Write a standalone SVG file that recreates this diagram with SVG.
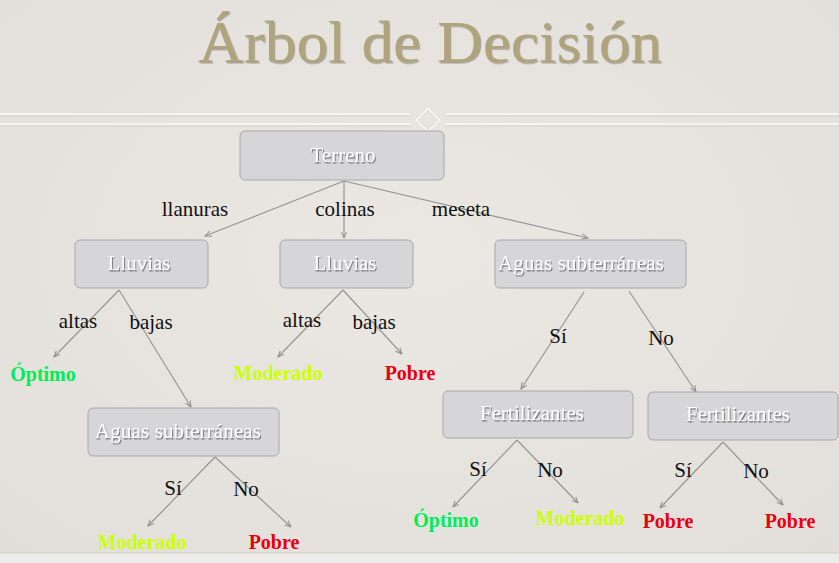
<svg xmlns="http://www.w3.org/2000/svg" width="839" height="563" viewBox="0 0 839 563">
<defs>
<marker id="arr" viewBox="0 0 10 10" refX="9" refY="5" markerWidth="7" markerHeight="7" orient="auto" markerUnits="userSpaceOnUse">
<path d="M0,1 L9,5 L0,9" fill="none" stroke="#8e8e8e" stroke-width="1.4"/>
</marker>
<radialGradient id="bg" cx="0.5" cy="0.45" r="0.75">
<stop offset="0" stop-color="#ebe8e4"/>
<stop offset="1" stop-color="#e2dfda"/>
</radialGradient>
<filter id="tsh" x="-5%" y="-20%" width="110%" height="140%">
<feDropShadow dx="1.2" dy="1.5" stdDeviation="0.6" flood-color="#5a5040" flood-opacity="0.45"/>
</filter>
<filter id="nsh" x="-5%" y="-20%" width="110%" height="150%">
<feDropShadow dx="1" dy="1.5" stdDeviation="0.7" flood-color="#6f6e72" flood-opacity="0.9"/>
</filter>
</defs>
<style>
.node rect{fill:#d6d5d8;stroke:#a8a7aa;stroke-width:1}
.nt{font-family:"Liberation Serif",serif;font-size:21px;fill:#ffffff;text-anchor:middle;filter:url(#nsh)}
.lbl{font-family:"Liberation Serif",serif;font-size:21px;fill:#111;text-anchor:middle}
.leaf{font-family:"Liberation Serif",serif;font-size:20px;font-weight:bold;text-anchor:middle}
.g{fill:#00ee55}.y{fill:#ccff00}.r{fill:#e8000c}
#edges line{stroke:#969696;stroke-width:1.2;marker-end:url(#arr)}
</style>
<rect width="839" height="563" fill="url(#bg)"/>
<rect y="553" width="839" height="10" fill="#eeecea"/>
<line x1="0" y1="553" x2="839" y2="553" stroke="#d2cec8" stroke-width="1"/>
<g id="title">
<text x="430" y="62" font-family="Liberation Serif,serif" font-size="60" fill="#b0a47b" text-anchor="middle" textLength="464" lengthAdjust="spacingAndGlyphs" filter="url(#tsh)">Árbol de Decisión</text>
</g>
<g id="divider" fill="none">
<path d="M0,114 H410 M446,114 H839" stroke="#f6f4f1" stroke-width="2"/>
<path d="M0,116 H410 M446,116 H839" stroke="#d6d2cc" stroke-width="1"/>
<path d="M0,124 H410 M446,124 H839" stroke="#f6f4f1" stroke-width="2"/>
<path d="M0,126 H410 M446,126 H839" stroke="#d6d2cc" stroke-width="1"/>
<path d="M428,109 L439,120 L428,131 L417,120 Z" stroke="#f6f4f1" stroke-width="2"/>
<path d="M428,111 L437,120 L428,129 L419,120 Z" stroke="#d6d2cc" stroke-width="1"/>
</g>
<g id="edges">
<line x1="344" y1="181" x2="205" y2="236"/>
<line x1="344" y1="181" x2="344" y2="238"/>
<line x1="344" y1="181" x2="588" y2="238"/>
<line x1="119" y1="290" x2="54" y2="357"/>
<line x1="119" y1="290" x2="191" y2="407"/>
<line x1="343" y1="290" x2="278" y2="357"/>
<line x1="343" y1="290" x2="402" y2="354"/>
<line x1="584" y1="292" x2="521" y2="389"/>
<line x1="629" y1="291" x2="696" y2="392"/>
<line x1="215" y1="457" x2="148" y2="526"/>
<line x1="215" y1="457" x2="291" y2="527"/>
<line x1="517" y1="440" x2="453" y2="507"/>
<line x1="517" y1="440" x2="578" y2="503"/>
<line x1="723" y1="442" x2="660" y2="508"/>
<line x1="723" y1="442" x2="783" y2="505"/>
</g>
<g id="terreno" class="node"><rect x="240" y="131" width="204" height="49" rx="5"/><text class="nt" x="343" y="162">Terreno</text></g>
<g id="lluvias1" class="node"><rect x="75" y="240" width="133" height="48" rx="5"/><text class="nt" x="139" y="270">Lluvias</text></g>
<g id="lluvias2" class="node"><rect x="280" y="240" width="133" height="48" rx="5"/><text class="nt" x="345" y="270">Lluvias</text></g>
<g id="aguas1" class="node"><rect x="495" y="240" width="191" height="48" rx="5"/><text class="nt" x="581" y="270" textLength="166">Aguas subterráneas</text></g>
<g id="aguas2" class="node"><rect x="88" y="408" width="191" height="48" rx="5"/><text class="nt" x="178" y="438" textLength="166">Aguas subterráneas</text></g>
<g id="fert1" class="node"><rect x="443" y="391" width="190" height="47" rx="5"/><text class="nt" x="532" y="420">Fertilizantes</text></g>
<g id="fert2" class="node"><rect x="648" y="392" width="190" height="48" rx="5"/><text class="nt" x="738" y="421">Fertilizantes</text></g>
<g id="labels">
<text class="lbl" x="195" y="216">llanuras</text>
<text class="lbl" x="345" y="216">colinas</text>
<text class="lbl" x="461" y="216">meseta</text>
<text class="lbl" x="78" y="328">altas</text>
<text class="lbl" x="151" y="329">bajas</text>
<text class="lbl" x="302" y="327">altas</text>
<text class="lbl" x="374" y="329">bajas</text>
<text class="lbl" x="558" y="343">Sí</text>
<text class="lbl" x="661" y="345">No</text>
<text class="lbl" x="173" y="495">Sí</text>
<text class="lbl" x="246" y="496">No</text>
<text class="lbl" x="478" y="476">Sí</text>
<text class="lbl" x="550" y="477">No</text>
<text class="lbl" x="683" y="477">Sí</text>
<text class="lbl" x="756" y="478">No</text>
</g>
<g id="leaves">
<text class="leaf g" x="43" y="381">Óptimo</text>
<text class="leaf y" x="278" y="380">Moderado</text>
<text class="leaf r" x="410" y="380">Pobre</text>
<text class="leaf y" x="142" y="549">Moderado</text>
<text class="leaf r" x="274" y="549">Pobre</text>
<text class="leaf g" x="446" y="527">Óptimo</text>
<text class="leaf y" x="580" y="525">Moderado</text>
<text class="leaf r" x="668" y="528">Pobre</text>
<text class="leaf r" x="790" y="528">Pobre</text>
</g>
</svg>
